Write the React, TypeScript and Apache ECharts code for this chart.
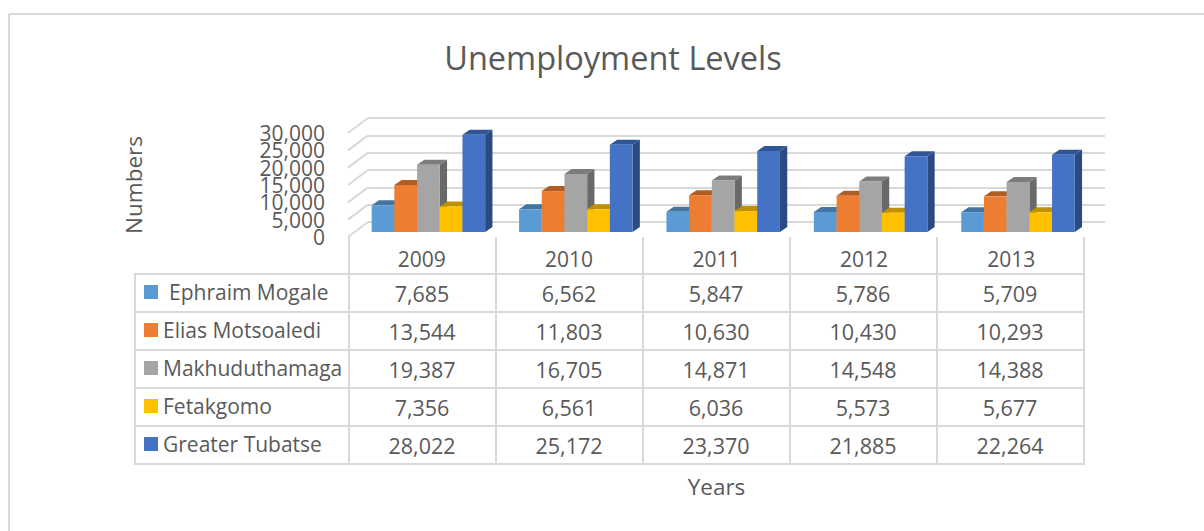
import React, { useEffect, useRef } from "react";
import * as echarts from "echarts";

const years = ["2009", "2010", "2011", "2012", "2013"];
const names = ["Ephraim Mogale", "Elias Motsoaledi", "Makhuduthamaga", "Fetakgomo", "Greater Tubatse"];
const ephraimMogale = [7685, 6562, 5847, 5786, 5709];
const eliasMotsoaledi = [13544, 11803, 10630, 10430, 10293];
const makhuduthamaga = [19387, 16705, 14871, 14548, 14388];
const fetakgomo = [7356, 6561, 6036, 5573, 5677];
const greaterTubatse = [28022, 25172, 23370, 21885, 22264];
const seriesValues = [ephraimMogale, eliasMotsoaledi, makhuduthamaga, fetakgomo, greaterTubatse];
const yTicks = [0, 5000, 10000, 15000, 20000, 25000, 30000];

const frontColors = ["#5b9bd5", "#ed7d31", "#a5a5a5", "#ffc000", "#4472c4"];
const topColors = ["#44749f", "#b05d25", "#7c7c7c", "#bf9000", "#2f5597"];
const sideColors = ["#3a6389", "#8f4c1e", "#696969", "#a37b00", "#2a4a80"];

const FONT = "'Open Sans', sans-serif";
const TEXT = "#595959";
const LINE = "#d9d9d9";

const rowLines = [274, 312, 350, 388, 426, 464];
const colLines = [349, 496, 643, 790, 937, 1084];

function tableGraphics(): any[] {
  const out: any[] = [];
  const line = (x1: number, y1: number, x2: number, y2: number) =>
    out.push({ type: "line", silent: true, shape: { x1, y1, x2, y2 }, style: { stroke: LINE, lineWidth: 2 } });
  // outer chart frame: only the top and left edges fall inside the picture
  line(9, 14, 1204, 14);
  line(9, 14, 9, 531);
  rowLines.forEach((y) => line(135, y, 1085, y));
  line(135, 273, 135, 465);
  colLines.forEach((x) => line(x, 237, x, 465));
  names.forEach((name, r) => {
    const cy = (rowLines[r] + rowLines[r + 1]) / 2 - 1;
    out.push({ type: "rect", silent: true, shape: { x: 144, y: cy - 7, width: 14, height: 14 }, style: { fill: frontColors[r] } });
    out.push({
      type: "text", silent: true, x: r === 0 ? 169 : 163, y: cy,
      style: { text: name, font: `21px ${FONT}`, fill: TEXT, textAlign: "left", textVerticalAlign: "middle" },
    });
    seriesValues[r].forEach((v, c) => {
      out.push({
        type: "text", silent: true, x: (colLines[c] + colLines[c + 1]) / 2 - 0.5, y: cy + 1,
        style: { text: v.toLocaleString("en-US"), font: `21.5px ${FONT}`, fill: TEXT, textAlign: "center", textVerticalAlign: "middle" },
      });
    });
  });
  return out;
}

const barShare = 0.154;
const depthX = 7.3;
const depthY = 5;
const planeX = 6.7;
const planeY = 5;

function barSeries(idx: number) {
  return {
    type: "custom",
    name: names[idx],
    xAxisIndex: 0,
    yAxisIndex: 0,
    clip: false,
    encode: { x: 0, y: 1 },
    data: seriesValues[idx].map((v, i) => [i, v]),
    renderItem: (_: any, api: any) => {
      const top = api.coord([api.value(0), api.value(1)]);
      const base = api.coord([api.value(0), 0]);
      const w = api.size([1, 0])[0] * barShare;
      const x0 = top[0] + planeX + (idx - 2.5) * w;
      const x1 = x0 + w;
      const y0 = top[1] - planeY;
      const y1 = base[1] - planeY;
      return {
        type: "group",
        children: [
          { type: "polygon", shape: { points: [[x1, y0], [x1 + depthX, y0 - depthY], [x1 + depthX, y1 - depthY], [x1, y1]] }, style: { fill: sideColors[idx] } },
          { type: "polygon", shape: { points: [[x0, y0], [x0 + depthX, y0 - depthY], [x1 + depthX, y0 - depthY], [x1, y0]] }, style: { fill: topColors[idx] } },
          { type: "rect", shape: { x: x0, y: y0, width: w, height: y1 - y0 }, style: { fill: frontColors[idx] } },
        ],
      };
    },
  };
}

export default function App() {
  const ref = useRef<HTMLDivElement>(null);
  useEffect(() => {
    const chart = echarts.init(ref.current!, undefined, { renderer: "svg" });
    chart.setOption({
      animation: false,
      backgroundColor: "#ffffff",
      textStyle: { fontFamily: FONT },
      title: {
        text: "Unemployment Levels",
        left: 608, top: 36, textAlign: "center",
        textStyle: { fontFamily: FONT, fontSize: 32.5, fontWeight: "normal", color: TEXT },
      },
      graphic: tableGraphics(),
      grid: [
        { left: 348, top: 133, width: 737, height: 104 },
        { left: 368, top: 118, width: 737, height: 104 },
      ],
      xAxis: [
        {
          type: "category", gridIndex: 0, data: years,
          axisLine: { show: false }, axisTick: { show: false },
          axisLabel: { fontFamily: FONT, fontSize: 21, color: TEXT, margin: 11 },
          name: "Years", nameLocation: "middle", nameGap: 238,
          nameTextStyle: { fontFamily: FONT, fontSize: 22.5, color: TEXT },
        },
        { type: "category", gridIndex: 1, data: years, show: false },
      ],
      yAxis: [
        {
          type: "value", gridIndex: 0, min: 0, max: 30000, interval: 5000,
          axisLine: { show: false }, axisTick: { show: false }, splitLine: { show: false },
          // the tick labels sit closer than the axis allows, so the wall series below draws them
          axisLabel: { show: false },
          name: "Numbers", nameLocation: "middle", nameGap: 203, nameRotate: 90,
          nameTextStyle: { fontFamily: FONT, fontSize: 22.5, color: TEXT },
        },
        {
          type: "value", gridIndex: 1, min: 0, max: 30000, interval: 5000,
          axisLine: { show: false }, axisTick: { show: false }, axisLabel: { show: false },
          splitLine: { show: true, showMinLine: true, showMaxLine: true, lineStyle: { color: LINE, width: 2 } },
        },
      ],
      series: [
        {
          type: "custom", name: "side wall", xAxisIndex: 0, yAxisIndex: 0, clip: false,
          encode: { x: 0, y: 1 },
          data: yTicks.map((t) => [0, t]),
          renderItem: (params: any, api: any) => {
            const v = api.value(1);
            const y = api.coord([0, v])[1];
            const x = params.coordSys.x;
            return {
              type: "group",
              children: [
                { type: "line", shape: { x1: x, y1: y, x2: x + 20, y2: y - 15 }, style: { stroke: LINE, lineWidth: 2 } },
                {
                  type: "text", x: x - 23, y,
                  style: { text: v.toLocaleString("en-US"), font: `21px ${FONT}`, fill: TEXT, textAlign: "right", textVerticalAlign: "middle" },
                },
              ],
            };
          },
        },
        ...names.map((_, i) => barSeries(i)),
      ],
    });
    return () => chart.dispose();
  }, []);
  return <div ref={ref} style={{ position: "fixed", left: 0, top: 0, width: 1204, height: 531 }} />;
}
